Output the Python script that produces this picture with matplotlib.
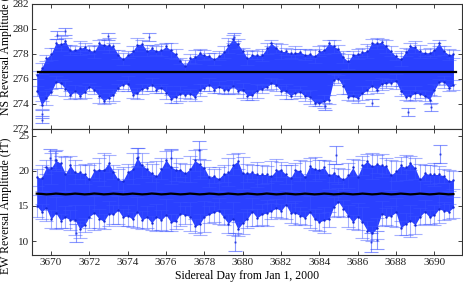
import matplotlib
matplotlib.use('Agg')
import matplotlib.pyplot as plt
import numpy as np

plt.rcParams['font.family'] = ['Liberation Serif', 'DejaVu Serif']

# sample times (sidereal day), one every quarter day
days = [3669.25 + 0.25 * i for i in range(88)]

# NS panel: visible upper / lower extent of the error-bar cloud (fT)
ns_top_edge = [
    276.6, 277.3, 277.9, 278.5, 279.2, 279.4, 279.3, 278.7, 278.6, 279.0,
    278.9, 278.6, 278.7, 279.1, 279.2, 279.3, 278.9, 278.3, 278.1, 278.2,
    278.6, 279.3, 279.1, 278.7, 278.7, 278.6, 278.8, 278.9, 278.9, 278.4,
    277.7, 277.5, 278.0, 278.3, 278.4, 278.3, 278.1, 278.1, 278.2, 278.6,
    279.3, 279.5, 279.2, 278.5, 278.2, 278.3, 278.2, 278.4, 278.9, 279.1,
    278.9, 278.8, 278.5, 278.4, 278.6, 278.4, 278.4, 278.3, 278.4, 278.6,
    278.7, 279.1, 279.1, 278.7, 278.2, 278.0, 278.2, 278.4, 278.5, 278.8,
    279.2, 279.3, 279.2, 279.1, 278.6, 278.1, 278.2, 278.5, 278.9, 279.0,
    278.7, 278.4, 278.5, 278.9, 279.1, 278.6, 278.4, 278.3,
]
ns_bottom_edge = [
    274.6, 273.6, 273.9, 274.7, 275.3, 275.3, 274.6, 274.4, 274.5, 274.4,
    274.5, 275.0, 274.8, 274.1, 274.0, 274.1, 274.2, 275.0, 275.2, 275.0,
    274.5, 274.4, 274.8, 275.0, 275.0, 274.9, 274.9, 274.4, 274.1, 274.1,
    274.2, 274.5, 274.4, 274.2, 274.6, 275.0, 275.0, 274.9, 274.9, 274.8,
    274.8, 274.9, 274.8, 274.5, 274.3, 274.3, 274.5, 274.9, 275.1, 275.2,
    275.0, 274.7, 274.4, 274.4, 274.6, 274.5, 274.2, 274.0, 273.8, 273.8,
    273.7, 274.0, 275.5, 275.7, 274.8, 274.3, 274.2, 274.1, 274.3, 274.8,
    275.0, 274.9, 275.1, 275.3, 275.4, 275.2, 274.6, 274.3, 274.2, 274.3,
    274.5, 274.2, 274.0, 274.6, 275.5, 275.3, 275.0, 275.1,
]
# half-length of the outermost error bars along each edge (fT)
ns_err_top = [
    0.30, 0.45, 0.25, 0.50, 0.35, 0.60, 0.30, 0.40, 0.25, 0.55,
    0.35, 0.30, 0.50, 0.25, 0.45, 0.60, 0.30, 0.35, 0.50, 0.25,
    0.40, 0.55, 0.30, 0.45, 0.25, 0.35, 0.50, 0.30, 0.60, 0.40,
    0.25, 0.45, 0.35, 0.55, 0.30, 0.40, 0.25, 0.50, 0.35, 0.45,
    0.60, 0.30, 0.40, 0.25, 0.55, 0.35, 0.30, 0.50, 0.45, 0.25,
    0.40, 0.60, 0.30, 0.35, 0.50, 0.25, 0.45, 0.30, 0.55, 0.40,
    0.35, 0.25, 0.50, 0.30, 0.45, 0.60, 0.25, 0.40, 0.35, 0.55,
    0.30, 0.45, 0.25, 0.50, 0.40, 0.30, 0.60, 0.35, 0.25, 0.45,
    0.50, 0.30, 0.40, 0.55, 0.25, 0.35, 0.45, 0.30,
]
ns_err_bottom = [
    0.40, 0.30, 0.55, 0.25, 0.45, 0.35, 0.60, 0.30, 0.50, 0.25,
    0.45, 0.35, 0.30, 0.55, 0.25, 0.40, 0.50, 0.30, 0.35, 0.60,
    0.25, 0.45, 0.40, 0.30, 0.55, 0.25, 0.35, 0.50, 0.30, 0.45,
    0.60, 0.25, 0.40, 0.35, 0.50, 0.30, 0.55, 0.25, 0.45, 0.35,
    0.30, 0.50, 0.25, 0.60, 0.35, 0.40, 0.55, 0.30, 0.25, 0.45,
    0.50, 0.35, 0.60, 0.25, 0.30, 0.45, 0.40, 0.55, 0.30, 0.25,
    0.50, 0.35, 0.45, 0.30, 0.60, 0.25, 0.40, 0.35, 0.55, 0.30,
    0.45, 0.25, 0.50, 0.35, 0.30, 0.60, 0.40, 0.25, 0.45, 0.55,
    0.30, 0.40, 0.35, 0.50, 0.25, 0.45, 0.30, 0.40,
]
ns_out_days = [3669.55, 3669.5, 3670.3, 3670.7, 3672.95, 3675.1, 3679.55,
               3684.3, 3686.75, 3688.65, 3689.85]
ns_out_vals = [272.75, 273.2, 279.5, 279.8, 279.4, 279.35, 279.35,
               273.8, 274.1, 273.35, 273.75]
ns_fit_days = [3669.3, 3691.15]
ns_fit = [276.55, 276.55]

# EW panel: visible upper / lower extent of the error-bar cloud (fT)
ew_top_edge = [
    20.3, 20.8, 21.5, 22.6, 23.0, 22.2, 22.0, 22.1, 21.5, 20.8,
    21.0, 20.8, 21.2, 21.8, 22.5, 22.3, 20.9, 20.3, 20.5, 21.0,
    22.5, 23.3, 22.6, 21.3, 21.0, 21.4, 21.8, 22.8, 23.0, 21.8,
    21.2, 21.0, 22.2, 23.0, 23.2, 21.5, 20.5, 20.3, 20.6, 20.8,
    21.8, 22.4, 22.5, 22.0, 21.0, 20.8, 21.3, 20.9, 20.7, 21.4,
    21.7, 21.3, 20.8, 20.9, 21.2, 21.5, 21.4, 21.9, 22.0, 21.6,
    21.5, 21.4, 21.0, 20.4, 20.3, 21.2, 21.7, 21.5, 22.2, 22.4,
    22.6, 22.3, 22.4, 21.8, 21.5, 21.4, 22.0, 22.3, 22.2, 21.9,
    21.0, 20.8, 20.9, 21.2, 20.7, 20.3, 20.1, 20.0,
]
ew_bottom_edge = [
    13.5, 13.1, 12.8, 11.8, 11.7, 11.9, 11.8, 11.6, 10.9, 10.5,
    11.3, 11.8, 11.6, 11.9, 11.7, 12.1, 12.4, 12.4, 12.2, 12.1,
    12.0, 11.9, 11.7, 11.8, 11.6, 11.5, 11.6, 11.4, 11.5, 11.7,
    12.2, 12.4, 11.5, 11.1, 10.9, 11.3, 12.6, 12.7, 12.5, 12.3,
    11.2, 10.8, 10.7, 11.0, 11.8, 12.2, 12.1, 12.3, 12.1, 13.2,
    13.4, 13.3, 13.1, 12.6, 12.3, 12.4, 12.3, 11.8, 11.6, 11.4,
    11.2, 12.0, 13.5, 13.6, 13.4, 12.0, 11.7, 11.6, 10.5, 10.2,
    10.0, 10.3, 12.1, 12.3, 12.2, 12.0, 10.9, 10.8, 10.6, 11.0,
    12.3, 12.5, 12.4, 12.3, 12.6, 13.0, 13.1, 13.3,
]
ew_err_top = [
    1.2, 1.8, 1.0, 2.2, 1.5, 1.1, 2.4, 1.3, 1.7, 1.0,
    1.4, 2.0, 1.1, 1.6, 2.3, 1.2, 1.0, 1.5, 1.9, 1.1,
    2.2, 1.4, 1.8, 1.0, 1.3, 2.1, 1.5, 1.2, 2.4, 1.6,
    1.0, 1.3, 1.9, 1.5, 2.2, 1.1, 1.4, 1.0, 1.7, 1.2,
    2.0, 1.5, 1.1, 2.3, 1.3, 1.0, 1.8, 1.4, 1.2, 2.1,
    1.6, 1.1, 1.3, 1.9, 1.0, 1.5, 2.2, 1.2, 1.7, 1.4,
    1.0, 2.0, 1.3, 1.1, 1.5, 1.8, 1.2, 2.3, 1.4, 1.0,
    1.9, 1.3, 1.6, 1.1, 2.1, 1.4, 1.2, 1.8, 1.0, 1.5,
    2.2, 1.1, 1.4, 1.7, 1.2, 1.0, 1.5, 1.3,
]
ew_err_bottom = [
    1.5, 1.1, 1.9, 1.3, 2.3, 1.0, 1.6, 1.4, 2.1, 1.2,
    1.0, 1.7, 2.4, 1.3, 1.1, 1.8, 1.4, 2.0, 1.2, 1.5,
    1.1, 2.2, 1.3, 1.6, 1.0, 1.9, 1.4, 2.3, 1.2, 1.1,
    1.7, 1.3, 2.0, 1.0, 1.5, 2.2, 1.2, 1.4, 1.8, 1.1,
    1.3, 2.4, 1.0, 1.6, 1.4, 2.0, 1.2, 1.5, 1.9, 1.1,
    1.3, 1.0, 2.1, 1.4, 1.7, 1.2, 1.0, 2.3, 1.5, 1.3,
    1.8, 1.1, 1.4, 2.0, 1.2, 1.6, 1.0, 1.9, 2.2, 1.3,
    1.1, 1.5, 1.8, 1.2, 1.4, 2.1, 1.0, 1.6, 2.3, 1.3,
    1.2, 1.7, 1.0, 1.4, 2.0, 1.3, 1.1, 1.5,
]
ew_out_days = [3669.95, 3670.2, 3671.3, 3674.55, 3676.25, 3677.7, 3679.6,
               3684.85, 3686.7, 3687.0, 3690.3]
ew_out_vals = [21.9, 21.6, 11.1, 22.0, 21.8, 23.0, 9.9,
               22.3, 9.8, 10.2, 22.4]
ew_fit = [
    16.76, 16.72, 16.66, 16.70, 16.77, 16.72, 16.66, 16.70, 16.77, 16.72,
    16.66, 16.70, 16.78, 16.73, 16.66, 16.70, 16.77, 16.72, 16.66, 16.70,
    16.77, 16.72, 16.66, 16.70, 16.78, 16.73, 16.66, 16.70, 16.77, 16.72,
    16.66, 16.70, 16.77, 16.72, 16.66, 16.70, 16.77, 16.73, 16.66, 16.70,
    16.77, 16.72, 16.66, 16.70, 16.77, 16.72, 16.66, 16.70, 16.78, 16.72,
    16.66, 16.70, 16.77, 16.72, 16.66, 16.70, 16.77, 16.72, 16.66, 16.70,
    16.77, 16.73, 16.66, 16.70, 16.77, 16.72, 16.66, 16.70, 16.77, 16.72,
    16.66, 16.70, 16.78, 16.72, 16.66, 16.70, 16.77, 16.72, 16.66, 16.70,
    16.77, 16.72, 16.66, 16.70, 16.77, 16.72, 16.66, 16.70,
]

NS_OUT_ERR = 0.3
EW_OUT_ERR = 1.3

FILL_COLOR = '#2a40ff'
BAR_COLOR = '#3a52ff'
DOT_COLOR = '#1428d8'


def draw_cloud(ax, top_edge, bottom_edge, err_top, err_bottom,
               out_days, out_vals, out_err):
    t = np.array(days)
    e_hi = np.array(err_top)
    e_lo = np.array(err_bottom)
    hi = np.array(top_edge) - e_hi
    lo = np.array(bottom_edge) + e_lo
    ax.fill_between(t, lo, hi, color=FILL_COLOR, lw=0, zorder=1)
    for vals, err in ((hi, e_hi), (lo, e_lo)):
        ax.errorbar(t, vals, yerr=err, fmt='none', ecolor=BAR_COLOR,
                    elinewidth=0.8, capsize=5, capthick=0.8, alpha=0.45,
                    zorder=2)
        ax.plot(t, vals, '.', color=DOT_COLOR, ms=1.5, zorder=3)
    ax.errorbar(out_days, out_vals, yerr=out_err, fmt='.', color=DOT_COLOR,
                ms=1.5, ecolor=BAR_COLOR, elinewidth=0.8, capsize=5,
                capthick=0.8, alpha=0.6, zorder=2)


def style_axes(ax):
    ax.tick_params(direction='in', length=3, width=0.6, top=True, right=True,
                   labelsize=8, pad=2, colors='#222222')
    for spine in ax.spines.values():
        spine.set_linewidth(0.8)
        spine.set_color('#333333')
    ax.set_xlim(3669.0, 3691.45)
    ax.set_xticks(range(3670, 3691, 2))


fig = plt.figure(figsize=(4.63, 2.84), dpi=100)
ax1 = fig.add_axes([0.069, 0.546, 0.929, 0.44])
ax2 = fig.add_axes([0.069, 0.102, 0.929, 0.444])

draw_cloud(ax1, ns_top_edge, ns_bottom_edge, ns_err_top, ns_err_bottom,
           ns_out_days, ns_out_vals, NS_OUT_ERR)
ax1.plot(ns_fit_days, ns_fit, color='black', lw=1.6, zorder=4)
style_axes(ax1)
ax1.set_ylim(272, 282)
ax1.set_yticks(range(272, 283, 2))
ax1.set_xticklabels([])

draw_cloud(ax2, ew_top_edge, ew_bottom_edge, ew_err_top, ew_err_bottom,
           ew_out_days, ew_out_vals, EW_OUT_ERR)
ax2.plot(days, ew_fit, color='black', lw=1.6, zorder=4)
style_axes(ax2)
ax2.set_ylim(8, 26)
ax2.set_yticks([10, 15, 20, 25])
ax2.set_xlabel('Sidereal Day from Jan 1, 2000', fontsize=8.5, labelpad=2)

fig.text(0.013, 0.83, 'NS Reversal Amplitude (fT)', rotation=90,
         ha='center', va='center', fontsize=8.5)
fig.text(0.013, 0.275, 'EW Reversal Amplitude (fT)', rotation=90,
         ha='center', va='center', fontsize=8.5)

fig.savefig('out.png', dpi=100)
